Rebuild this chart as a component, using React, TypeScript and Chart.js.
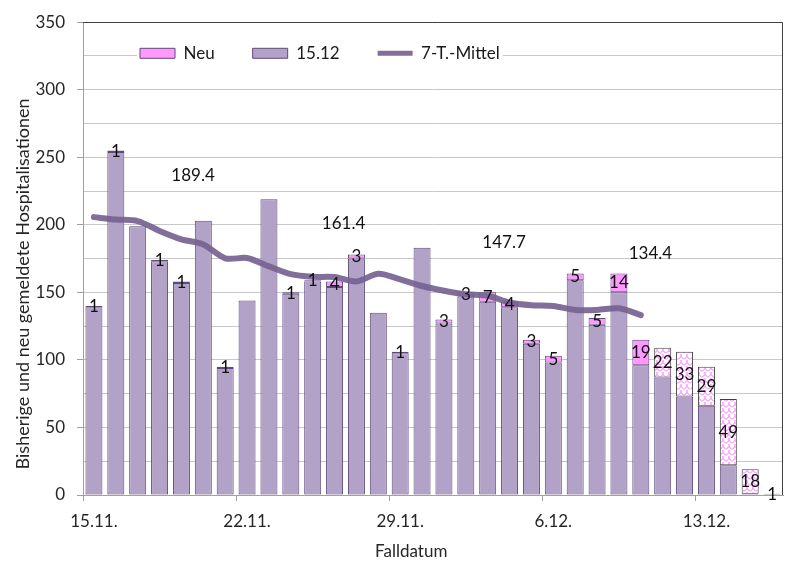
import { useEffect, useRef } from 'react';
import { Chart, registerables } from 'chart.js';

Chart.register(...registerables);

const categories = [
  '15.11.', '16.11.', '17.11.', '18.11.', '19.11.', '20.11.', '21.11.', '22.11.',
  '23.11.', '24.11.', '25.11.', '26.11.', '27.11.', '28.11.', '29.11.', '30.11.',
  '1.12.', '2.12.', '3.12.', '4.12.', '5.12.', '6.12.', '7.12.', '8.12.',
  '9.12.', '10.12.', '11.12.', '12.12.', '13.12.', '14.12.', '15.12.', '16.12.',
];
const tickLabels = ['15.11.', '22.11.', '29.11.', '6.12.', '13.12.'];

// Bisherige Hospitalisationen (Stand 15.12)
const baseValues: (number | null)[] = [
  139, 254, 199, 173, 157, 203, 94, 144, 219, 149, 158, 154, 175, 135, 105, 183,
  127, 147, 143, 139, 112, 98, 159, 126, 150, 96, 87, 73, 66, 22, 1, null,
];
// Neu gemeldete Hospitalisationen
const newValues = [
  1, 1, 0, 1, 1, 0, 1, 0, 0, 1, 1, 4, 3, 0, 1, 0,
  3, 3, 7, 4, 3, 5, 5, 5, 14, 19, 22, 33, 29, 49, 18, 1,
];
// from this date on the new values are provisional (hatched)
const provisionalFrom = '11.12.';

// 7-Tage-Mittel
const movingAverage = [
  205.7, 203.9, 202.8, 195.5, 189.3, 185.5, 175.2, 175.4, 169.2, 163.5, 161.5, 161.3, 158.0,
  163.8, 159.6, 154.7, 151.2, 148.6, 147.5, 142.5, 140.5, 139.9, 137.0, 137.0, 138.2, 133.2,
];

// Wochenmittel annotations
const weekMeanLabels = ['189.4', '161.4', '147.7', '134.4'];
const weekMeanIndex = [4.53, 11.41, 18.75, 25.44];
const weekMeanLevel = [236.8, 201.3, 187.2, 178.7];

const FONT = 'Lato';
const TEXT = '#262626';
const AXIS = '#a0a0a0';

export default function App() {
  const canvasRef = useRef<HTMLCanvasElement | null>(null);

  useEffect(() => {
    document.body.style.margin = '0';
    const canvas = canvasRef.current;
    if (!canvas) return;

    // hatch pattern for provisional values
    const tile = document.createElement('canvas');
    tile.width = 6;
    tile.height = 6;
    const tctx = tile.getContext('2d')!;
    tctx.fillStyle = '#ffffff';
    tctx.fillRect(0, 0, 6, 6);
    tctx.strokeStyle = '#ff66ff';
    tctx.lineWidth = 1;
    tctx.beginPath();
    tctx.moveTo(0, 5.5);
    tctx.lineTo(3, 2.5);
    tctx.lineTo(6, 5.5);
    tctx.moveTo(3, 2.5);
    tctx.lineTo(3, 0);
    tctx.stroke();
    const hatch = canvas.getContext('2d')!.createPattern(tile, 'repeat') as CanvasPattern;

    const provIdx = categories.indexOf(provisionalFrom);
    const isProv = (i: number | undefined) => typeof i === 'number' && i >= provIdx;

    Chart.defaults.font.family = FONT;
    Chart.defaults.font.size = 17;
    Chart.defaults.color = TEXT;

    const legendOrder: Record<number, number> = { 1: 0, 0: 1, 2: 2 };
    const LEG_PAD = 38;

    const legendPlacer = {
      id: 'legendPlacer',
      beforeInit(chart: any) {
        const lg = chart.legend;
        if (!lg) return;
        const origFit = lg.fit;
        lg.fit = function () {
          origFit.call(this);
          this.height = 0;
        };
        const origDraw = lg.draw;
        lg.draw = function (area: any) {
          const c = chart.ctx;
          c.save();
          c.fillStyle = '#ffffff';
          c.fillRect(137, 42, 366, 24);
          c.restore();
          origDraw.call(this, area);
        };
      },
      afterLayout(chart: any) {
        const lg = chart.legend;
        if (!lg) return;
        lg.left = 140 - LEG_PAD;
        lg.top = 53.3 - LEG_PAD - 8.5;
        lg.right = 804;
        lg.bottom = 90;
        lg.width = lg.right - lg.left;
        lg.height = lg.bottom - lg.top;
      },
    };

    const framePlugin = {
      id: 'frame',
      afterDatasetsDraw(chart: any) {
        const { ctx, chartArea: a } = chart;
        ctx.save();
        ctx.strokeStyle = '#404040';
        ctx.lineWidth = 1;
        ctx.beginPath();
        ctx.moveTo(a.left, Math.round(a.top) + 0.5);
        ctx.lineTo(Math.round(a.right) - 0.5, Math.round(a.top) + 0.5);
        ctx.lineTo(Math.round(a.right) - 0.5, a.bottom);
        ctx.stroke();
        ctx.restore();
      },
    };

    const labelPlugin = {
      id: 'valueLabels',
      afterDatasetsDraw(chart: any) {
        const { ctx } = chart;
        const meta = chart.getDatasetMeta(1);
        ctx.save();
        ctx.font = `17px ${FONT}`;
        ctx.fillStyle = '#111111';
        ctx.textAlign = 'center';
        ctx.textBaseline = 'middle';
        meta.data.forEach((el: any, i: number) => {
          const v = newValues[i];
          if (!v) return;
          const p = el.getProps(['x', 'y', 'base'], true);
          ctx.fillText(String(v), p.x, (p.y + p.base) / 2);
        });
        const xs = chart.scales.x;
        const ys = chart.scales.y;
        weekMeanLabels.forEach((t, i) => {
          ctx.fillText(t, xs.getPixelForValue(weekMeanIndex[i]), ys.getPixelForValue(weekMeanLevel[i]));
        });
        ctx.restore();
      },
    };

    const chart = new Chart(canvas, {
      type: 'bar',
      data: {
        labels: categories,
        datasets: [
          {
            type: 'bar',
            label: '15.12',
            data: baseValues,
            backgroundColor: '#b3a2c7',
            borderColor: '#5f497a',
            borderWidth: 1,
            borderSkipped: false,
            barPercentage: 0.777,
            categoryPercentage: 1,
            stack: 's',
            pointStyle: 'rect',
          } as any,
          {
            type: 'bar',
            label: 'Neu',
            data: newValues,
            backgroundColor: (ctx: any) => (isProv(ctx.dataIndex) ? hatch : '#ff99ff'),
            borderColor: (ctx: any) => (isProv(ctx.dataIndex) ? '#404040' : '#5f497a'),
            borderWidth: 1,
            borderSkipped: false,
            barPercentage: 0.777,
            categoryPercentage: 1,
            stack: 's',
            pointStyle: 'rect',
          } as any,
          {
            type: 'line',
            label: '7-T.-Mittel',
            data: movingAverage,
            borderColor: 'rgba(118, 98, 145, 0.92)',
            borderWidth: 6,
            borderCapStyle: 'round',
            borderJoinStyle: 'round',
            pointRadius: 0,
            pointHoverRadius: 0,
            pointBorderWidth: 5,
            pointStyle: 'line',
            tension: 0.3,
            fill: false,
            order: -1,
          } as any,
        ],
      },
      options: {
        animation: false,
        responsive: true,
        maintainAspectRatio: false,
        events: [],
        layout: { padding: { top: 21, right: 21, left: 0, bottom: 0 } },
        plugins: {
          tooltip: { enabled: false },
          legend: {
            display: true,
            position: 'top',
            align: 'start',
            labels: {
              usePointStyle: true,
              pointStyleWidth: 35,
              boxHeight: 10,
              padding: LEG_PAD,
              color: '#1a1a1a',
              font: { size: 17, family: FONT },
              sort: (a: any, b: any) => legendOrder[a.datasetIndex] - legendOrder[b.datasetIndex],
            },
          },
        },
        scales: {
          x: {
            type: 'category',
            stacked: true,
            offset: true,
            grid: {
              display: true,
              drawOnChartArea: false,
              offset: true,
              tickLength: 6,
              color: (ctx: any) => (ctx.index % 7 === 0 ? AXIS : 'rgba(0,0,0,0)'),
              tickColor: (ctx: any) => (ctx.index % 7 === 0 ? AXIS : 'rgba(0,0,0,0)'),
            },
            border: { display: true, color: AXIS },
            ticks: {
              autoSkip: false,
              maxRotation: 0,
              minRotation: 0,
              padding: 10,
              color: TEXT,
              font: { size: 17, family: FONT },
              callback: (_v: any, i: number) => (tickLabels.includes(categories[i]) ? categories[i] : ''),
            },
            title: {
              display: true,
              text: 'Falldatum          ',
              color: TEXT,
              font: { size: 17, family: FONT },
              padding: { top: 0, bottom: 11 },
            },
            afterFit: (s: any) => {
              s.height = 78;
            },
          },
          y: {
            stacked: true,
            min: 0,
            max: 350,
            grid: {
              color: '#c8c8c8',
              tickLength: 6,
              tickColor: (ctx: any) => (ctx.tick && ctx.tick.value % 50 === 0 ? AXIS : 'rgba(0,0,0,0)'),
            },
            border: { display: true, color: AXIS },
            ticks: {
              stepSize: 25,
              padding: 12,
              color: TEXT,
              font: { size: 17, family: FONT },
              callback: (v: any) => (Number(v) % 50 === 0 ? String(v) : ''),
            },
            title: {
              display: true,
              text: 'Bisherige und neu gemeldete Hospitalisationen           ',
              color: TEXT,
              font: { size: 18, family: FONT },
              padding: { top: 12, bottom: 0 },
            },
            afterFit: (s: any) => {
              s.width = 83;
            },
          },
        },
      } as any,
      plugins: [legendPlacer, framePlugin, labelPlugin],
    });

    return () => {
      chart.destroy();
    };
  }, []);

  return (
    <div style={{ width: 804, height: 573, position: 'relative' }}>
      <canvas ref={canvasRef} />
    </div>
  );
}
